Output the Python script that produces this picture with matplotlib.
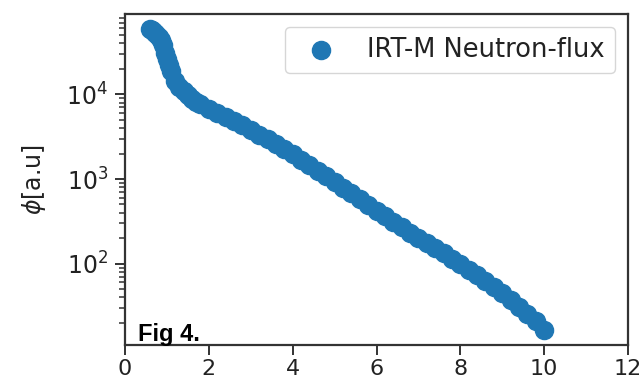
import matplotlib
matplotlib.use("Agg")
import matplotlib.pyplot as plt

# Data (energy-like x vs flux, log y)
x_vals = [0.60, 0.65, 0.70, 0.75, 0.80, 0.85, 0.90, 0.95, 1.00, 1.05, 1.10,
          1.20, 1.30, 1.40, 1.50, 1.60, 1.70, 1.80, 2.00, 2.20, 2.40, 2.60,
          2.80, 3.00, 3.20, 3.40, 3.60, 3.80, 4.00, 4.20, 4.40, 4.60, 4.80,
          5.00, 5.20, 5.40, 5.60, 5.80, 6.00, 6.20, 6.40, 6.60, 6.80, 7.00,
          7.20, 7.40, 7.60, 7.80, 8.00, 8.20, 8.40, 8.60, 8.80, 9.00, 9.20,
          9.40, 9.60, 9.80, 10.00]
flux_vals = [59000, 57500, 55000, 51500, 48000, 44000, 38000, 31000, 26000,
             22000, 19000, 14500, 12300, 10800, 9700, 8900, 8200, 7600, 6700,
             6000, 5400, 4800, 4300, 3800, 3350, 2950, 2600, 2250, 1950, 1680,
             1450, 1250, 1080, 920, 790, 680, 580, 495, 420, 362, 312, 268,
             232, 202, 176, 153, 132, 114, 99, 85, 73, 62, 53, 45, 37.5, 31,
             25.5, 21, 16.5]
series_label = "IRT-M Neutron-flux"
y_label = r"$\phi$[a.u]"
x_ticks = [0, 2, 4, 6, 8, 10, 12]
annotation = "Fig 4."

fig = plt.figure(figsize=(6.43, 3.83), dpi=100)
ax = fig.add_axes([125 / 643, 1 - 345 / 383, (628 - 125) / 643, (345 - 14) / 383])

ax.scatter(x_vals, flux_vals, s=170, color="#1f77b4", label=series_label)
ax.set_yscale("log")
ax.set_xlim(0, 12)
ax.set_xticks(x_ticks)
ax.set_xticklabels([str(t) for t in x_ticks])

ax.set_ylabel(y_label, fontsize=17, labelpad=13, color="#222222")
ax.tick_params(which="major", length=7, width=1.4, pad=5,
               labelcolor="#222222", color="#333333")
ax.tick_params(axis="y", which="major", labelsize=17)
ax.tick_params(axis="x", which="major", labelsize=16, pad=3)
ax.tick_params(which="minor", length=4, width=1.1, color="#333333")
for sp in ax.spines.values():
    sp.set_linewidth(1.6)
    sp.set_color("#333333")

leg = ax.legend(loc="upper right", fontsize=18.5, borderaxespad=0.5)
for t in leg.get_texts():
    t.set_color("#222222")
ax.text(0.026, 0.012, annotation, transform=ax.transAxes, va="baseline",
        ha="left", fontfamily="Liberation Sans", fontweight="bold", fontsize=17)

fig.savefig("out.png", dpi=100)
